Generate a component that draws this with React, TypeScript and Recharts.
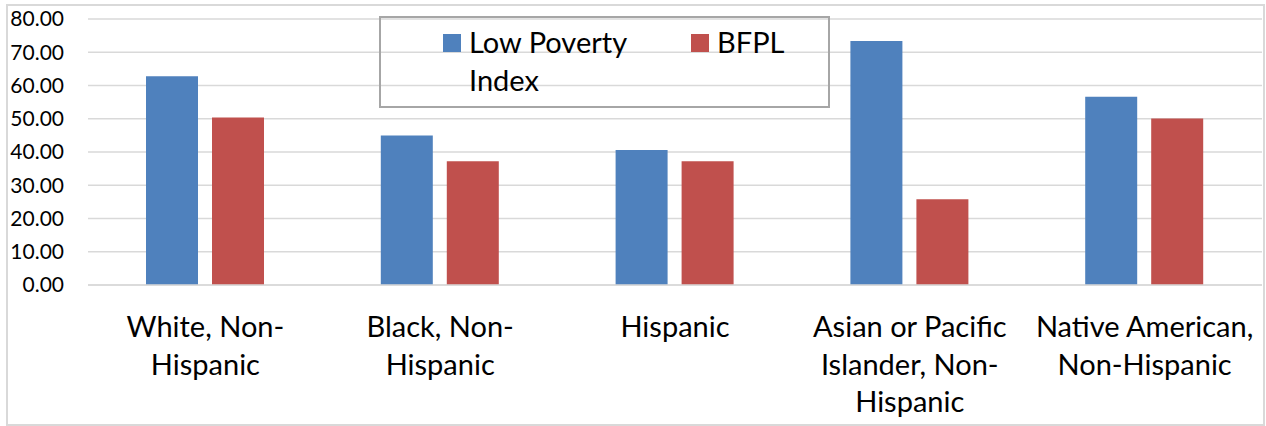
import React from 'react';
import { BarChart, Bar, XAxis, YAxis, CartesianGrid, Legend } from 'recharts';

const categories = [
  'White, Non-Hispanic',
  'Black, Non-Hispanic',
  'Hispanic',
  'Asian or Pacific Islander, Non-Hispanic',
  'Native American, Non-Hispanic',
];
const categoryLines = [
  ['White, Non-', 'Hispanic'],
  ['Black, Non-', 'Hispanic'],
  ['Hispanic'],
  ['Asian or Pacific', 'Islander, Non-', 'Hispanic'],
  ['Native American,', 'Non-Hispanic'],
];
const lowPovertyIndex = [62.8, 45.0, 40.6, 73.4, 56.6];
const bfpl = [50.4, 37.2, 37.2, 25.8, 50.1];
const yTicks = [0, 10, 20, 30, 40, 50, 60, 70, 80];
const seriesOrder = ['Low Poverty Index', 'BFPL'];

const data = categories.map((name, i) => ({
  name,
  lpi: lowPovertyIndex[i],
  bfpl: bfpl[i],
}));

const FONT = 'Lato, "Open Sans", sans-serif';

const CategoryTick = (props: any) => {
  const { x, y, payload } = props;
  const lines = categoryLines[payload.index] || [payload.value];
  return (
    <text x={x} y={y} textAnchor="middle" fill="#000" fontSize={29} fontFamily={FONT}>
      {lines.map((line, i) => (
        <tspan key={i} x={x} dy={i === 0 ? 44 : 37.5}>
          {line}
        </tspan>
      ))}
    </text>
  );
};

const LegendBox = (props: any) => {
  const items = [...(props.payload || [])].sort(
    (a: any, b: any) => seriesOrder.indexOf(a.value) - seriesOrder.indexOf(b.value),
  );
  const positions = [62, 310];
  return (
    <div
      style={{
        position: 'relative',
        width: 447,
        height: 88,
        border: '2px solid #a6a6a6',
        fontFamily: FONT,
        fontSize: 29,
        color: '#000',
      }}
    >
      {items.map((item: any, i: number) => (
        <React.Fragment key={item.value}>
          <div
            style={{
              position: 'absolute',
              left: positions[i],
              top: 16,
              width: 18,
              height: 18,
              background: item.color,
            }}
          />
          <div
            style={{
              position: 'absolute',
              left: positions[i] + 26,
              top: 5,
              width: 180,
              lineHeight: '38px',
              whiteSpace: 'normal',
            }}
          >
            {item.value}
          </div>
        </React.Fragment>
      ))}
    </div>
  );
};

export default function App() {
  return (
    <div style={{ position: 'absolute', left: 0, top: 0, width: 1266, height: 426, background: '#fff' }}>
      <div
        style={{
          position: 'absolute',
          left: 6,
          top: 4,
          width: 1255,
          height: 418,
          border: '2px solid #d9d9d9',
        }}
      />
      <BarChart
        width={1266}
        height={426}
        data={data}
        margin={{ top: 19, right: 4, left: 0, bottom: 0 }}
        barSize={52}
        barGap={14}
      >
        <CartesianGrid vertical={false} stroke="#d9d9d9" strokeWidth={1.5} />
        <XAxis
          dataKey="name"
          height={141}
          interval={0}
          tick={<CategoryTick />}
          tickLine={false}
          axisLine={{ stroke: '#d9d9d9', strokeWidth: 1.5 }}
        />
        <YAxis
          width={88}
          domain={[0, 80]}
          ticks={yTicks}
          tickFormatter={(v: number) => v.toFixed(2)}
          tick={{ fontSize: 21, fill: '#000', fontFamily: FONT }}
          tickLine={false}
          axisLine={false}
          tickMargin={18}
        />
        <Legend
          layout="horizontal"
          verticalAlign="middle"
          align="center"
          content={<LegendBox />}
          wrapperStyle={{ position: 'absolute', left: 379, top: 16, width: 451, height: 92 }}
        />
        <Bar dataKey="lpi" name="Low Poverty Index" fill="#4f81bd" isAnimationActive={false} />
        <Bar dataKey="bfpl" name="BFPL" fill="#c0504d" isAnimationActive={false} />
      </BarChart>
    </div>
  );
}
